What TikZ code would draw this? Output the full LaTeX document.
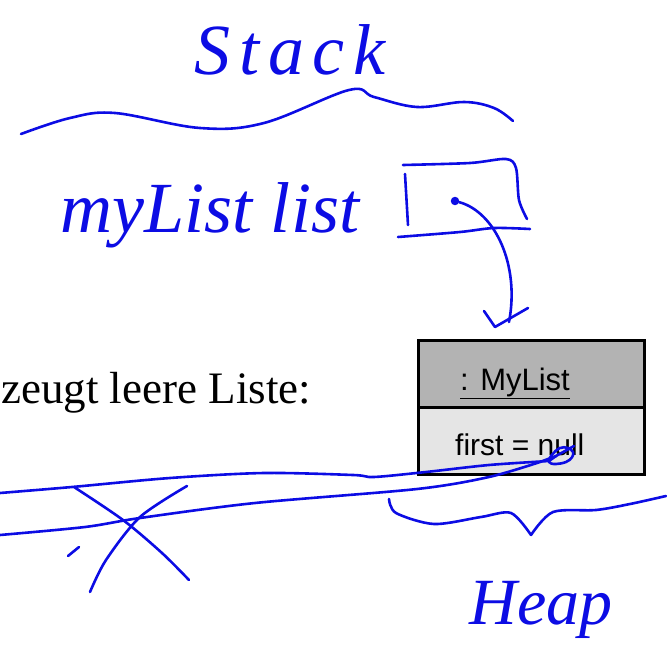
\documentclass[tikz,border=0pt]{standalone}
\usepackage{fontspec}
\setmainfont{Liberation Serif}
\newfontfamily\arialfont{Liberation Sans}
\usetikzlibrary{arrows.meta}
\definecolor{ink}{RGB}{12,12,228}
\definecolor{hdgray}{RGB}{179,179,179}
\definecolor{bdgray}{RGB}{229,229,229}
\begin{document}
\begin{tikzpicture}[x=1pt,y=-1pt,
  pen/.style={draw=ink,line width=2.6pt,line cap=round,line join=round},
  hand/.style={text=ink,inner sep=0pt,font=\itshape\fontsize{72}{76}\selectfont},
  compartment/.style={draw=black,line width=3pt,minimum width=226pt,minimum height=67pt,inner sep=0pt},
  umltext/.style={inner sep=0pt,font=\arialfont\fontsize{30}{34}\selectfont}]
\useasboundingbox (0,0) rectangle (667,648);

% ---- Stack label and wavy separator
\node[hand,anchor=base] (stack) at (290,74) {\addfontfeature{LetterSpace=12}Stack};
\draw[pen] plot[smooth,tension=0.6] coordinates {(21,134) (70,118) (115,113) (200,128) (264,123) (349,90) (374,97) (417,107) (464,102) (494,108) (513,121)};

% ---- myList variable with its box
\node[hand,anchor=base] (var) at (210,232) {myList list};
\draw[pen] plot[smooth,tension=0.5] coordinates {(403,165) (470,163) (506,159) (516,168) (519,200) (527,219)};
\draw[pen] (405,174) -- (408,225);
\draw[pen] plot[smooth,tension=0.5] coordinates {(398,237) (460,232) (494,228) (530,229)};
\node[circle,fill=ink,inner sep=3pt] (dot) at (455,201) {};
\coordinate (arrowend) at (509,322);
\draw[pen] (dot) .. controls (495,212) and (520,265) .. (arrowend);
\draw[pen] (484,311) -- (495,327) -- (528,308);

% ---- text
\node[anchor=base west,inner sep=0pt,font=\fontsize{45}{50}\selectfont] (caption) at (1,403) {zeugt leere Liste:};

% ---- UML object
\node[compartment,fill=hdgray,anchor=north west] (objhead) at (417,339) {};
\node[compartment,fill=bdgray,anchor=north west] (objbody) at (417,406) {};
\node[umltext,anchor=base west,font=\arialfont\fontsize{31}{34}\selectfont] (objname) at (460,390) {\underline{: MyList}};
\node[umltext,anchor=base west] (objattr) at (455,455) {first = null};

% ---- crossed-out reference lines
\coordinate (nullend) at (556,456);
\draw[pen] plot[smooth,tension=0.5] coordinates {(0,493) (72,487) (170,478) (264,473) (353,475) (374,477) (426,472) (489,465) (549,461)} -- (nullend);
\draw[pen] plot[smooth,tension=0.5] coordinates {(0,535) (85,527) (140,518) (255,503) (417,489) (489,477) (540,462)} -- (nullend);
\draw[pen] plot[smooth cycle,tension=0.8] coordinates {(549,462) (560,448) (573,452) (566,462)};
\draw[pen] (556,456) -- (574,446);

% ---- cross
\draw[pen] plot[smooth,tension=0.5] coordinates {(74,487) (123,520) (162,553) (189,580)};
\draw[pen] plot[smooth,tension=0.5] coordinates {(187,486) (140,517) (106,560) (90,592)};
\draw[pen] (68,556) -- (79,547);

% ---- Heap brace and label
\draw[pen] plot[smooth,tension=0.5] coordinates {(389,499) (396,513) (434,524) (481,517) (511,513) (531,535)};
\draw[pen] plot[smooth,tension=0.5] coordinates {(531,535) (553,512) (596,510) (630,504) (666,496)};
\node[hand,anchor=base,font=\itshape\fontsize{66}{70}\selectfont] (heap) at (541,624) {Heap};
\end{tikzpicture}
\end{document}
